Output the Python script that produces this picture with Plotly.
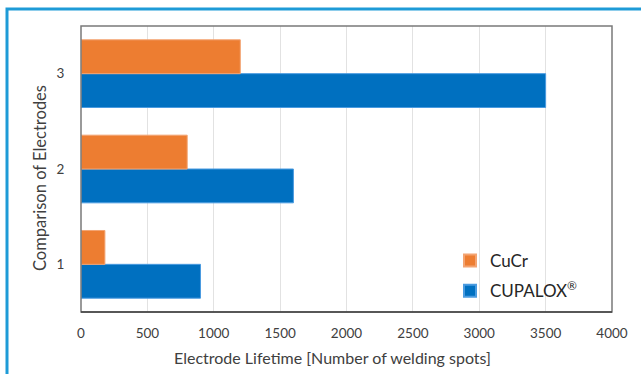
import plotly.graph_objects as go

categories = ["1", "2", "3"]
cucr = [180, 800, 1200]
cupalox = [900, 1600, 3500]
x_ticks = [0, 500, 1000, 1500, 2000, 2500, 3000, 3500, 4000]
x_title = "Electrode Lifetime [Number of welding spots]"
y_title = "Comparison of Electrodes"

W, H = 641, 374
L, R, T, B = 81, 29, 26, 62
pw, ph = W - L - R, H - T - B

fig = go.Figure()
fig.add_trace(go.Bar(y=categories, x=cupalox, name="CUPALOX<sup>®</sup>", orientation="h",
                     legendgroup="b", legendrank=2,
                     marker=dict(color="#0070C0", line=dict(color="#4a9be0", width=1))))
fig.add_trace(go.Bar(y=categories, x=cucr, name="CuCr", orientation="h",
                     legendgroup="a", legendrank=1,
                     marker=dict(color="#ED7D31", line=dict(color="#f3a472", width=1))))

fig.update_layout(
    width=W, height=H,
    margin=dict(l=L, r=R, t=T, b=B),
    paper_bgcolor="white", plot_bgcolor="white",
    barmode="group", bargap=0.29, bargroupgap=0,
    font=dict(family="Lato, Open Sans, sans-serif", size=13.5, color="#404040"),
    legend=dict(x=(450 - L) / pw, y=(H - B - 276) / ph, xanchor="left", yanchor="middle",
                traceorder="grouped", bgcolor="rgba(0,0,0,0)",
                font=dict(size=17, color="#262626"), tracegroupgap=5, itemsizing="constant"),
    xaxis=dict(range=[0, 4000], tickvals=x_ticks, showgrid=True, gridcolor="#e2e2e2",
               gridwidth=1, zeroline=False, showline=False, ticks="outside",
               ticklen=9, tickcolor="rgba(0,0,0,0)"),
    yaxis=dict(type="category", showgrid=False, ticks="outside", ticklen=13,
               tickcolor="rgba(0,0,0,0)", showline=False),
    annotations=[
        dict(text=x_title, xref="paper", yref="paper", x=(332 - L) / pw,
             y=(H - B - 357) / ph, xanchor="center", yanchor="middle", showarrow=False,
             font=dict(size=16, color="#404040")),
        dict(text=y_title, xref="paper", yref="paper", x=(40 - L) / pw,
             y=(H - B - 178) / ph, xanchor="center", yanchor="middle", showarrow=False,
             textangle=-90, font=dict(size=16.5, color="#404040")),
    ],
    shapes=[
        dict(type="rect", xref="paper", yref="paper", x0=0, x1=1, y0=0, y1=1,
             line=dict(color="#7a7a7a", width=1.5), layer="above"),
        dict(type="line", xref="paper", yref="paper", x0=0, x1=1, y0=0, y1=0,
             line=dict(color="#404040", width=1.5), layer="above"),
        dict(type="rect", xref="paper", yref="paper",
             x0=(7 - L) / pw, x1=1.2, y0=-0.5, y1=(H - B - 9) / ph,
             line=dict(color="#1E9BD7", width=3), layer="above"),
    ],
)

fig.write_html("out.html")
